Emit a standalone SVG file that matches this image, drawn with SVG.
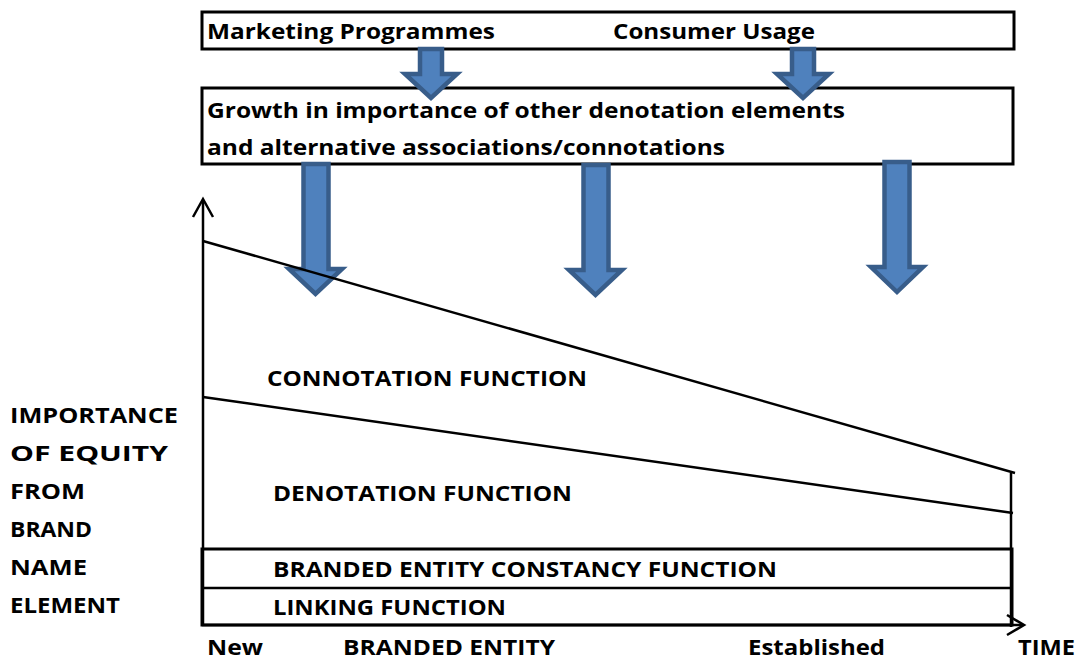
<svg xmlns="http://www.w3.org/2000/svg" width="1079" height="659" viewBox="0 0 1079 659">
<style>
.t{font-family:"Open Sans","Liberation Sans",sans-serif;font-weight:bold;font-size:22px;fill:#000}
.box{fill:#fff;stroke:#000;stroke-width:3}
.arr{fill:#4F81BD;stroke:#385D8A;stroke-width:4.5;stroke-linejoin:miter}
.ln{stroke:#000;stroke-width:2.5;fill:none}
</style>
<rect width="1079" height="659" fill="#fff"/>
<g id="box-top">
<rect class="box" x="202" y="12" width="812" height="37"/>
<text class="t" x="207" y="39" textLength="288" lengthAdjust="spacingAndGlyphs">Marketing Programmes</text>
<text class="t" x="613" y="39" textLength="202" lengthAdjust="spacingAndGlyphs">Consumer Usage</text>
</g>
<g id="box-growth">
<rect class="box" x="202" y="88" width="811" height="76"/>
<text class="t" x="207" y="118" textLength="638" lengthAdjust="spacingAndGlyphs">Growth in importance of other denotation elements</text>
<text class="t" x="207" y="155" textLength="518" lengthAdjust="spacingAndGlyphs">and alternative associations/connotations</text>
</g>
<g id="connectors">
<path class="arr" d="M420,49 H442 V74 H457 L431,98 L405,74 H420 Z"/>
<path class="arr" d="M792,49 H814 V74 H829 L803,98 L777,74 H792 Z"/>
<path class="arr" d="M303.5,164 H328.5 V269 H342 L315.5,294 L289,269 H303.5 Z"/>
<path class="arr" d="M583.5,165 H608.5 V270 H622 L595.5,295 L569,270 H583.5 Z"/>
<path class="arr" d="M884.5,162 H909.5 V267 H923 L897,292 L871,267 H884.5 Z"/>
</g>
<g id="chart">
<path class="ln" d="M203,625 V200"/>
<path class="ln" d="M193,217 L203,199 L213,217"/>
<path class="ln" d="M203,241 L1015,473"/>
<path class="ln" d="M203,397 L1013,513"/>
<path class="ln" d="M1011,473 V627"/>
<rect x="202" y="549" width="810" height="76" fill="none" stroke="#000" stroke-width="3"/>
<path class="ln" d="M202,588 H1012" stroke-width="3"/>
<path class="ln" d="M202,625 H1022" stroke-width="3"/>
<path class="ln" d="M1007,615 L1024,625 L1007,635"/>
</g>
<g id="labels">
<text class="t" x="267" y="386" textLength="320" lengthAdjust="spacingAndGlyphs">CONNOTATION FUNCTION</text>
<text class="t" x="273" y="501" textLength="299" lengthAdjust="spacingAndGlyphs">DENOTATION FUNCTION</text>
<text class="t" x="273" y="577" textLength="504" lengthAdjust="spacingAndGlyphs">BRANDED ENTITY CONSTANCY FUNCTION</text>
<text class="t" x="273" y="615" textLength="233" lengthAdjust="spacingAndGlyphs">LINKING FUNCTION</text>
<text class="t" x="10" y="423" textLength="168" lengthAdjust="spacingAndGlyphs">IMPORTANCE</text>
<text class="t" x="10" y="461" textLength="158" lengthAdjust="spacingAndGlyphs">OF EQUITY</text>
<text class="t" x="10" y="499" textLength="75" lengthAdjust="spacingAndGlyphs">FROM</text>
<text class="t" x="10" y="537" textLength="82" lengthAdjust="spacingAndGlyphs">BRAND</text>
<text class="t" x="10" y="575" textLength="77" lengthAdjust="spacingAndGlyphs">NAME</text>
<text class="t" x="10" y="613" textLength="110" lengthAdjust="spacingAndGlyphs">ELEMENT</text>
<text class="t" x="207" y="655" textLength="56" lengthAdjust="spacingAndGlyphs">New</text>
<text class="t" x="343" y="655" textLength="212" lengthAdjust="spacingAndGlyphs">BRANDED ENTITY</text>
<text class="t" x="748" y="655" textLength="137" lengthAdjust="spacingAndGlyphs">Established</text>
<text class="t" x="1018" y="655" textLength="57" lengthAdjust="spacingAndGlyphs">TIME</text>
</g>
</svg>
